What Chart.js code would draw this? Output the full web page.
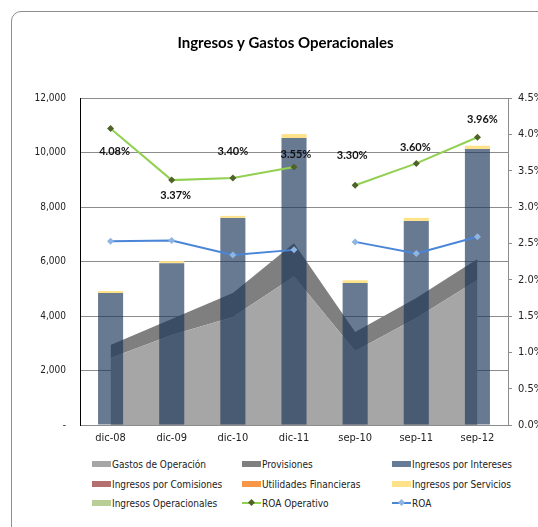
<!DOCTYPE html>
<html>
<head>
<meta charset="utf-8">
<script src="https://cdn.jsdelivr.net/npm/chart.js@4.4.1/dist/chart.umd.min.js"></script>
<style>
html, body { margin: 0; padding: 0; background: #fff; width: 538px; height: 527px; overflow: hidden; }
#frame { position: absolute; left: 11px; top: 11px; width: 640px; height: 620px; border: 1px solid #8e8e8e; border-radius: 10px; }
#chart { position: absolute; left: 13px; top: 13px; }
#legend { position: absolute; left: 92px; top: 459px; font: 10px "DejaVu Sans Condensed", "DejaVu Sans", sans-serif; color: #222; }
.item { position: absolute; white-space: nowrap; height: 12px; line-height: 12px; }
.sw { position: relative; display: inline-block; width: 19px; height: 6px; vertical-align: middle; margin-right: 1px; top: -1px; }
.sw.line { height: 2px; }
.sw .mk { position: absolute; left: 7px; top: -2px; width: 5px; height: 5px; transform: rotate(45deg); }
</style>
</head>
<body>
<div id="frame"></div>
<canvas id="chart" width="545" height="440"></canvas>
<div id="legend"></div>
<script>
// periodos (eje X)
const periods = ['dic-08', 'dic-09', 'dic-10', 'dic-11', 'sep-10', 'sep-11', 'sep-12'];

// montos (eje izquierdo)
const gastosOperacion = [2460, 3300, 3960, 5450, 2720, 3930, 5320];
const provisiones = [480, 590, 880, 1220, 690, 730, 770];
const ingresosIntereses = [4840, 5940, 7600, 10530, 5210, 7490, 10130];
const ingresosComisiones = [0, 0, 0, 0, 0, 0, 0];
const utilidadesFinancieras = [0, 0, 0, 0, 0, 0, 0];
const ingresosServicios = [75, 75, 75, 145, 100, 110, 120];
const ingresosOperacionales = [0, 0, 0, 0, 0, 0, 0];

// ratios en % (eje derecho)
const roaOperativo = [4.08, 3.37, 3.40, 3.55, 3.30, 3.60, 3.96];
const roa = [2.53, 2.54, 2.34, 2.41, 2.52, 2.36, 2.59];

// ticks
const leftTicks = { min: 0, max: 12000, step: 2000 };
const rightTicks = { min: 0, max: 4.5, step: 0.5 };

// no hay linea entre dic-11 y sep-10
const GAP_AFTER = 3;

// posicion manual de las etiquetas de ROA Operativo (dx, dy en px)
const roaOpLabelShift = [[4, 23], [4, 15], [0, -26], [2, -13], [-3, -30], [-1, -16], [5, -18]];

const FONT = '"DejaVu Sans Condensed", "DejaVu Sans", sans-serif';

const gapSegment = color => ({
    borderColor: c => c.p0DataIndex === GAP_AFTER ? 'rgba(0,0,0,0)' : color
});

const datasets = [
    { type: 'line', label: 'Gastos de Operación', data: gastosOperacion, yAxisID: 'y', stack: 'area',
      fill: 'origin', backgroundColor: '#a6a6a6', borderWidth: 0, pointRadius: 0, order: 4, swatch: 'box' },
    { type: 'line', label: 'Provisiones', data: provisiones, yAxisID: 'y', stack: 'area',
      fill: '-1', backgroundColor: '#7f7f7f', borderWidth: 0, pointRadius: 0, order: 4, swatch: 'box' },
    { type: 'bar', label: 'Ingresos por Intereses', data: ingresosIntereses, yAxisID: 'y', stack: 'bars',
      backgroundColor: 'rgba(23,50,88,0.65)', legendColor: '#667b96', order: 3, swatch: 'box' },
    { type: 'bar', label: 'Ingresos por Comisiones', data: ingresosComisiones, yAxisID: 'y', stack: 'bars',
      backgroundColor: '#b3706e', order: 3, swatch: 'box' },
    { type: 'bar', label: 'Utilidades Financieras', data: utilidadesFinancieras, yAxisID: 'y', stack: 'bars',
      backgroundColor: '#f79646', order: 3, swatch: 'box' },
    { type: 'bar', label: 'Ingresos por Servicios', data: ingresosServicios, yAxisID: 'y', stack: 'bars',
      backgroundColor: '#fee28a', order: 3, swatch: 'box' },
    { type: 'bar', label: 'Ingresos Operacionales', data: ingresosOperacionales, yAxisID: 'y', stack: 'bars',
      backgroundColor: '#b9cd96', order: 3, swatch: 'box' },
    { type: 'line', label: 'ROA Operativo', data: roaOperativo, yAxisID: 'y1',
      borderColor: '#92d050', borderWidth: 2, pointStyle: 'rectRot', pointRadius: 3.5,
      pointBackgroundColor: '#4f6228', pointBorderColor: '#4f6228', pointBorderWidth: 0,
      segment: gapSegment('#92d050'), order: 1, swatch: 'line' },
    { type: 'line', label: 'ROA', data: roa, yAxisID: 'y1',
      borderColor: '#4a86d8', borderWidth: 2, pointStyle: 'rectRot', pointRadius: 3.5,
      pointBackgroundColor: '#8db4e2', pointBorderColor: '#8db4e2', pointBorderWidth: 0,
      segment: gapSegment('#4a86d8'), order: 1, swatch: 'line' }
];

const roaLabels = {
    id: 'roaLabels',
    afterDatasetsDraw(chart) {
        const idx = chart.data.datasets.findIndex(d => d.label === 'ROA Operativo');
        const meta = chart.getDatasetMeta(idx);
        const ctx = chart.ctx;
        ctx.save();
        ctx.font = 'bold 11px Lato, "Liberation Sans", sans-serif';
        ctx.fillStyle = '#111';
        ctx.textAlign = 'center';
        ctx.textBaseline = 'middle';
        meta.data.forEach((pt, i) => {
            const [dx, dy] = roaOpLabelShift[i];
            ctx.fillText(roaOperativo[i].toFixed(2) + '%', pt.x + dx, pt.y + dy);
        });
        ctx.restore();
    }
};

new Chart(document.getElementById('chart'), {
    data: { labels: periods, datasets: datasets },
    plugins: [roaLabels],
    options: {
        responsive: false,
        animation: false,
        devicePixelRatio: 1,
        layout: { padding: 0 },
        datasets: {
            bar: { categoryPercentage: 1, barPercentage: 0.41, borderWidth: 0 },
            line: { tension: 0 }
        },
        plugins: {
            legend: { display: false },
            tooltip: { enabled: false },
            title: {
                display: true,
                text: 'Ingresos y Gastos Operacionales',
                color: '#000',
                font: { family: 'Lato, "Liberation Sans", sans-serif', size: 15, weight: 'bold' },
                padding: { top: 21, bottom: 46 }
            }
        },
        scales: {
            x: {
                grid: { display: false, drawTicks: false },
                border: { color: '#8c8c8c' },
                ticks: { color: '#222', font: { family: FONT, size: 11 }, padding: 7 },
                afterFit: s => { s.height = 28; }
            },
            y: {
                position: 'left',
                stacked: true,
                min: leftTicks.min,
                max: leftTicks.max,
                grid: { color: '#8c8c8c', drawTicks: false },
                border: { color: '#000' },
                ticks: {
                    stepSize: leftTicks.step,
                    color: '#222',
                    font: { family: FONT, size: 10 },
                    padding: 14,
                    callback: v => v === 0 ? '-' : v.toLocaleString('en-US')
                },
                afterFit: s => { s.width = 67; }
            },
            y1: {
                position: 'right',
                min: rightTicks.min,
                max: rightTicks.max,
                grid: { drawOnChartArea: false, color: '#8c8c8c', tickLength: 4 },
                border: { color: '#8c8c8c' },
                ticks: {
                    stepSize: rightTicks.step,
                    color: '#222',
                    font: { family: FONT, size: 11 },
                    padding: 6,
                    callback: v => v.toFixed(1) + '%'
                },
                afterFit: s => { s.width = 50; }
            }
        }
    }
});

// leyenda en 3 columnas como en Excel
const legendEl = document.getElementById('legend');
datasets.forEach((d, i) => {
    const item = document.createElement('div');
    item.className = 'item';
    item.style.left = (i % 3) * 150 + 'px';
    item.style.top = Math.floor(i / 3) * 19.5 + 'px';
    const sw = document.createElement('span');
    if (d.swatch === 'line') {
        sw.className = 'sw line';
        sw.style.background = d.borderColor;
        const mk = document.createElement('span');
        mk.className = 'mk';
        mk.style.background = d.pointBackgroundColor;
        sw.appendChild(mk);
    } else {
        sw.className = 'sw';
        sw.style.background = d.legendColor || d.backgroundColor;
    }
    item.appendChild(sw);
    item.appendChild(document.createTextNode(d.label));
    legendEl.appendChild(item);
});
</script>
</body>
</html>
